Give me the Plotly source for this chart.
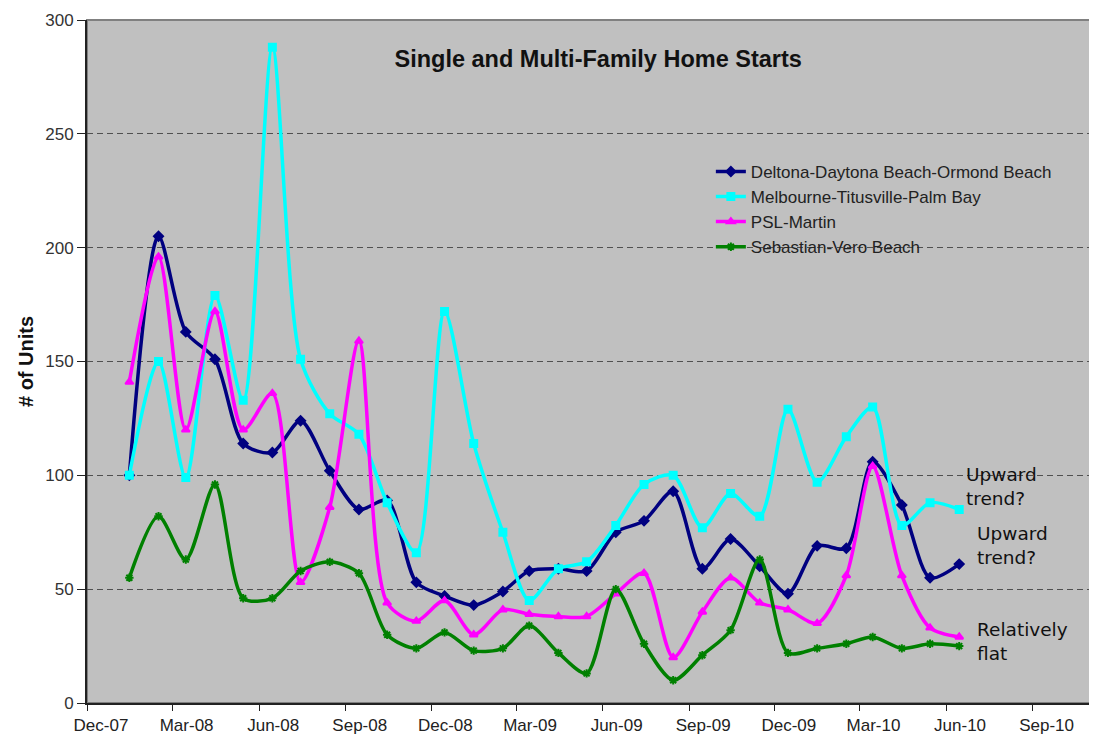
import plotly.graph_objects as go

# monthly observations, Jan-2008 .. Jun-2010 (plotted mid-month)
months = [f"{y}-{m:02d}-15" for y in (2008, 2009, 2010) for m in range(1, 13)][:30]

deltona = [100, 205, 163, 151, 114, 110, 124, 102, 85, 89,
           53, 47, 43, 49, 58, 59, 58, 75, 80, 93,
           59, 72, 60, 48, 69, 68, 106, 87, 55, 61]
melbourne = [100, 150, 99, 179, 133, 288, 151, 127, 118, 88,
             66, 172, 114, 75, 45, 59, 62, 78, 96, 100,
             77, 92, 82, 129, 97, 117, 130, 78, 88, 85]
psl_martin = [141, 196, 120, 172, 120, 136, 53, 86, 159, 44,
              36, 45, 30, 41, 39, 38, 38, 48, 57, 20,
              40, 55, 44, 41, 35, 56, 104, 56, 33, 29]
sebastian = [55, 82, 63, 96, 46, 46, 58, 62, 57, 30,
             24, 31, 23, 24, 34, 22, 13, 50, 26, 10,
             21, 32, 63, 22, 24, 26, 29, 24, 26, 25]

series = [
    ("Deltona-Daytona Beach-Ormond Beach", deltona, "#000080", "diamond"),
    ("Melbourne-Titusville-Palm Bay", melbourne, "#00FFFF", "square"),
    ("PSL-Martin", psl_martin, "#FF00FF", "triangle-up"),
    ("Sebastian-Vero Beach", sebastian, "#008000", "asterisk-open"),
]

fig = go.Figure()
for name, vals, color, symbol in series:
    fig.add_trace(go.Scatter(
        x=months, y=vals, name=name,
        mode="lines+markers",
        line=dict(color=color, width=3.5, shape="spline", smoothing=0.8),
        marker=dict(symbol=symbol, size=7, color=color,
                    line=dict(color=color, width=2)),
    ))

# plot-area border (top/right grey, axes drawn in black on top)
fig.add_shape(type="rect", xref="paper", yref="paper", x0=0, y0=0, x1=1, y1=1,
              line=dict(color="#808080", width=2), layer="below")

notes = [
    ("Upward<br>trend?", 0.874, 95),
    ("Upward<br>trend?", 0.885, 69),
    ("Relatively<br>flat", 0.885, 27),
]
for text, xp, yv in notes:
    fig.add_annotation(text=text, xref="paper", x=xp, y=yv, yref="y",
                       xanchor="left", align="left", showarrow=False,
                       font=dict(family="DejaVu Sans", size=18.5, color="#111111"))

fig.update_layout(
    width=1097, height=736,
    margin=dict(l=79, r=15, t=12, b=41),
    paper_bgcolor="white",
    plot_bgcolor="#C0C0C0",
    font=dict(family="Liberation Sans, Arial", color="#222222"),
    title=dict(text="<b>Single and Multi-Family Home Starts</b>",
               x=0.538, xanchor="center", y=0.9307, yanchor="middle",
               font=dict(size=23.5, color="#111111")),
    legend=dict(x=0.622, y=0.804, xanchor="left", yanchor="top",
                bgcolor="rgba(0,0,0,0)",
                font=dict(size=17, color="#222222")),
    xaxis=dict(
        type="date", range=["2007-12-01", "2010-11-01"], automargin=False,
        tick0="2007-12-01", dtick="M3", tickformat="%b-%y", ticklabelshift=14,
        showgrid=False, showline=True, linecolor="#222222", linewidth=2,
        ticks="outside", ticklen=6, tickcolor="#222222",
        tickfont=dict(size=17, color="#222222"),
    ),
    yaxis=dict(
        range=[0, 300], dtick=50, automargin=False,
        showgrid=True, gridcolor="#505050", griddash="6px,4px", gridwidth=1,
        zeroline=False, showline=True, linecolor="#222222", linewidth=2,
        ticks="outside", ticklen=8, tickcolor="#222222",
        tickfont=dict(size=17, color="#333333"),
        title=dict(text="<b># of Units</b>", font=dict(size=20, color="#111111"),
                   standoff=6),
    ),
)

fig.write_html("out.html")
